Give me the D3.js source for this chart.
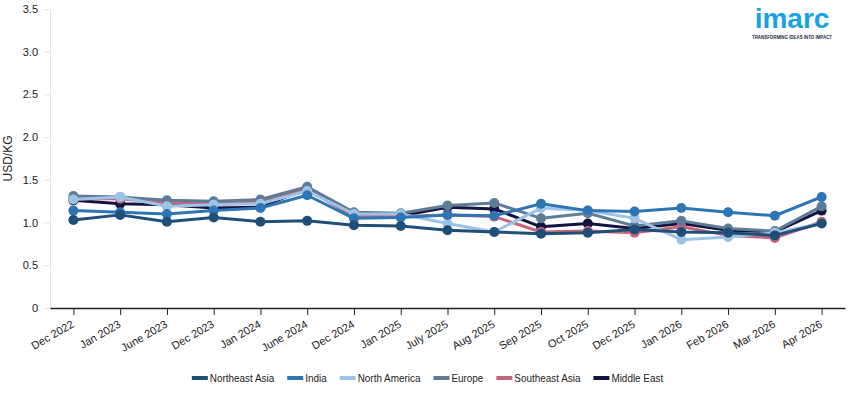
<!DOCTYPE html>
<html>
<head>
<meta charset="utf-8">
<script src="https://cdn.jsdelivr.net/npm/d3@7"></script>
<style>
  body { margin: 0; background: #fff; font-family: "Liberation Sans", Arial, sans-serif; }
  svg text { font-family: "Liberation Sans", Arial, sans-serif; }
</style>
</head>
<body>
<div id="chart"></div>
<script>
var months = ["Dec 2022", "Jan 2023", "June 2023", "Dec 2023", "Jan 2024", "June 2024", "Dec 2024", "Jan 2025",
  "July 2025", "Aug 2025", "Sep 2025", "Oct 2025", "Dec 2025", "Jan 2026", "Feb 2026", "Mar 2026", "Apr 2026"];

var northeastAsia = [1.03, 1.09, 1.01, 1.06, 1.01, 1.02, 0.97, 0.96, 0.91, 0.89, 0.87, 0.88, 0.92, 0.89, 0.88, 0.85, 0.99];
var india         = [1.14, 1.12, 1.10, 1.14, 1.17, 1.32, 1.05, 1.06, 1.09, 1.08, 1.22, 1.14, 1.13, 1.17, 1.12, 1.08, 1.30];
var northAmerica  = [1.27, 1.30, 1.19, 1.21, 1.22, 1.37, 1.10, 1.10, 0.99, 0.89, 1.17, 1.14, 1.05, 0.80, 0.83, 0.88, 0.99];
var europe        = [1.31, 1.30, 1.26, 1.25, 1.27, 1.42, 1.12, 1.11, 1.20, 1.23, 1.05, 1.11, 0.96, 1.02, 0.93, 0.90, 1.19];
var southeastAsia = [1.28, 1.28, 1.23, 1.23, 1.24, 1.39, 1.07, 1.07, 1.09, 1.07, 0.89, 0.90, 0.88, 0.95, 0.85, 0.82, 1.01];
var middleEast    = [1.26, 1.22, 1.21, 1.17, 1.18, 1.40, 1.08, 1.08, 1.18, 1.16, 0.95, 0.99, 0.93, 0.99, 0.91, 0.89, 1.14];

var seriesNames = ["Northeast Asia", "India", "North America", "Europe", "Southeast Asia", "Middle East"];
var seriesValues = [northeastAsia, india, northAmerica, europe, southeastAsia, middleEast];
var seriesColors = ["#1f4e79", "#2e75b6", "#9dc3e6", "#5f7c96", "#c6667b", "#14123f"];
var yTicks = [0, 0.5, 1.0, 1.5, 2.0, 2.5, 3.0, 3.5];

var width = 855, height = 393;
var margin = {left: 50, right: 10, top: 9, bottom: 85};

var svg = d3.select("#chart").append("svg")
  .attr("width", width)
  .attr("height", height);

var x = d3.scalePoint()
  .domain(months)
  .range([margin.left, width - margin.right])
  .padding(0.5);

var y = d3.scaleLinear()
  .domain([0, 3.5])
  .range([height - margin.bottom, margin.top]);

// y axis
var yAxis = svg.append("g")
  .attr("transform", "translate(" + margin.left + ",0)")
  .call(d3.axisLeft(y).tickValues(yTicks).tickSize(6).tickPadding(6)
    .tickFormat(function(d) { return d === 0 ? "0" : d3.format(".1f")(d); }));
yAxis.select(".domain").attr("stroke", "#e3e3e3");
yAxis.selectAll(".tick line").attr("stroke", "#e3e3e3");
yAxis.selectAll("text").attr("fill", "#222").style("font-size", "11px");

// x axis
var xAxis = svg.append("g")
  .attr("transform", "translate(0," + (height - margin.bottom) + ")")
  .call(d3.axisBottom(x).tickSize(7).tickSizeOuter(0));
xAxis.select(".domain").attr("stroke", "#222").attr("stroke-width", 1.3);
xAxis.selectAll(".tick line").attr("stroke", "#222");
xAxis.selectAll("text")
  .attr("fill", "#222")
  .style("font-size", "11px")
  .attr("text-anchor", "end")
  .attr("x", 0).attr("y", 0)
  .attr("dx", 0)
  .attr("dy", "0.35em")
  .attr("transform", "translate(-1,15) rotate(-30)");

// y label
svg.append("text")
  .attr("transform", "translate(12," + ((height - margin.bottom + margin.top) / 2) + ") rotate(-90)")
  .attr("text-anchor", "middle")
  .style("font-size", "12px")
  .attr("fill", "#222")
  .text("USD/KG");

// series, first one drawn on top
var line = d3.line()
  .x(function(d, i) { return x(months[i]); })
  .y(function(d) { return y(d); });

var order = d3.range(seriesNames.length).reverse();
order.forEach(function(s) {
  var g = svg.append("g").attr("class", "series");
  g.append("path")
    .datum(seriesValues[s])
    .attr("fill", "none")
    .attr("stroke", seriesColors[s])
    .attr("stroke-width", 3)
    .attr("stroke-linejoin", "round")
    .attr("d", line);
  g.selectAll("circle")
    .data(seriesValues[s])
    .enter().append("circle")
    .attr("cx", function(d, i) { return x(months[i]); })
    .attr("cy", function(d) { return y(d); })
    .attr("r", 5)
    .attr("fill", seriesColors[s]);
});

// legend
var legend = svg.append("g").attr("class", "legend");
var lx = 0;
seriesNames.forEach(function(name, i) {
  var item = legend.append("g").attr("transform", "translate(" + lx + ",0)");
  item.append("rect")
    .attr("x", 0).attr("y", -2)
    .attr("width", 16).attr("height", 4)
    .attr("fill", seriesColors[i]);
  var t = item.append("text")
    .attr("x", 18).attr("y", 0)
    .attr("dy", "0.35em")
    .style("font-size", "11px")
    .attr("fill", "#222")
    .text(name);
  var w = t.node().getComputedTextLength();
  t.attr("textLength", w * 0.9).attr("lengthAdjust", "spacingAndGlyphs");
  lx += 18 + w * 0.9 + 13;
});
legend.attr("transform", "translate(" + ((width - (lx - 13)) / 2) + ",378)");

// logo
var logo = svg.append("g").attr("transform", "translate(792,0)");
logo.append("text")
  .attr("y", 28)
  .attr("text-anchor", "middle")
  .style("font-size", "28px")
  .style("font-weight", "bold")
  .attr("fill", "#17a2e6")
  .text("imarc");
logo.append("text")
  .attr("y", 39)
  .attr("text-anchor", "middle")
  .style("font-size", "4.5px")
  .style("font-weight", "bold")
  .attr("textLength", 80)
  .attr("lengthAdjust", "spacingAndGlyphs")
  .attr("fill", "#1a2a3a")
  .text("TRANSFORMING IDEAS INTO IMPACT");
</script>
</body>
</html>
